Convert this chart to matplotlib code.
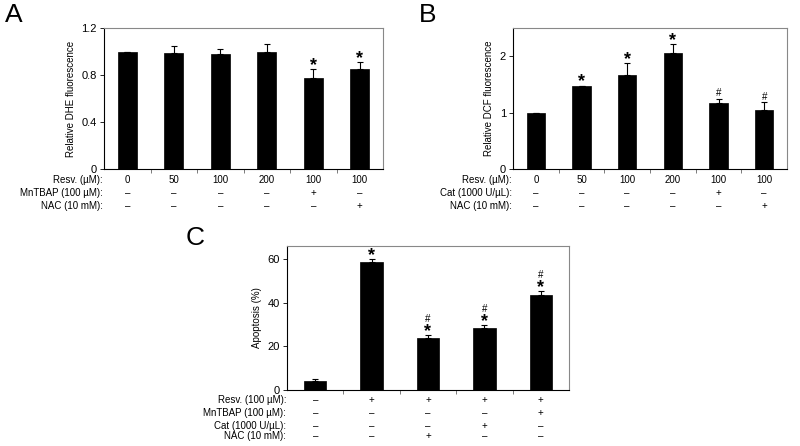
import matplotlib
matplotlib.use("Agg")
import matplotlib.pyplot as plt
import matplotlib.transforms as mtransforms

plt.rcParams['font.family'] = ['Liberation Sans', 'DejaVu Sans']
plt.rcParams['font.size'] = 7

# panel A: DHE
dhe_vals = [1.0, 0.99, 0.975, 1.0, 0.772, 0.852]
dhe_err = [0.0, 0.055, 0.045, 0.06, 0.08, 0.06]
dhe_marks = ['', '', '', '', '*', '*']
a_rows = ["Resv. (µM):", "MnTBAP (100 µM):", "NAC (10 mM):"]
a_cells = [["0", "50", "100", "200", "100", "100"],
           ["–", "–", "–", "–", "+", "–"],
           ["–", "–", "–", "–", "–", "+"]]

# panel B: DCF
dcf_vals = [1.0, 1.47, 1.66, 2.05, 1.17, 1.04]
dcf_err = [0.0, 0.01, 0.22, 0.17, 0.07, 0.14]
dcf_marks = ['', '*', '*', '*', '#', '#']
b_rows = ["Resv. (µM):", "Cat (1000 U/µL):", "NAC (10 mM):"]
b_cells = [["0", "50", "100", "200", "100", "100"],
           ["–", "–", "–", "–", "+", "–"],
           ["–", "–", "–", "–", "–", "+"]]

# panel C: apoptosis
apo_vals = [4.2, 58.6, 24.0, 28.5, 43.6]
apo_err = [0.8, 1.4, 1.4, 1.4, 1.7]
apo_marks = ['', '*', '#*', '#*', '#*']
c_rows = ["Resv. (100 µM):", "MnTBAP (100 µM):", "Cat (1000 U/µL):", "NAC (10 mM):"]
c_cells = [["–", "+", "+", "+", "+"],
           ["–", "–", "–", "–", "+"],
           ["–", "–", "–", "+", "–"],
           ["–", "–", "+", "–", "–"]]

W, H = 800, 446
fig = plt.figure(figsize=(8, 4.46), dpi=100)


def box(l, t, r, b):
    return [l / W, 1 - b / H, (r - l) / W, (b - t) / H]


def panel(rect, vals, err, marks, ylim, yticks, ylabels, ylab, rows, cells, row_y, letter, letter_xy):
    ax = fig.add_axes(box(*rect))
    n = len(vals)
    x = list(range(n))
    ax.bar(x, vals, width=0.4, color='black', edgecolor='black', linewidth=0.5)
    ax.errorbar(x, vals, yerr=[[0] * n, err], fmt='none', ecolor='black',
                elinewidth=0.8, capsize=2, capthick=0.8)
    span = ylim[1] - ylim[0]
    for xi, v, e, m in zip(x, vals, err, marks):
        y = v + e + span * 0.005
        for ch in reversed(m):
            if ch == '*':
                ax.text(xi, y - span * 0.04, '*', ha='center', va='bottom',
                        fontsize=13, fontweight='bold')
                y += span * 0.07
            else:
                ax.text(xi, y, '#', ha='center', va='bottom', fontsize=7)
                y += span * 0.07
    ax.set_xlim(-0.5, n - 0.5)
    ax.set_ylim(*ylim)
    ax.set_yticks(yticks)
    ax.set_yticklabels(ylabels, fontsize=8)
    ax.set_xticks([i + 0.5 for i in range(n - 1)])
    ax.set_xticklabels([])
    ax.tick_params(axis='x', length=3, width=0.6, color='#666666')
    ax.tick_params(axis='y', length=3, width=0.6, pad=2)
    ax.set_ylabel(ylab, fontsize=7, labelpad=4)
    for s in ['top', 'right']:
        ax.spines[s].set_color('#888888')
        ax.spines[s].set_linewidth(0.8)
    for s in ['left', 'bottom']:
        ax.spines[s].set_linewidth(0.8)
    tr = mtransforms.blended_transform_factory(ax.transData, fig.transFigure)
    for lab, vals_row, yp in zip(rows, cells, row_y):
        yf = 1 - yp / H
        fig.text((rect[0] - 1) / W, yf, lab, ha='right', va='center', fontsize=7)
        for xi, c in zip(x, vals_row):
            ax.text(xi, yf, c, ha='center', va='center', fontsize=7, transform=tr)
    fig.text(letter_xy[0] / W, 1 - letter_xy[1] / H, letter, fontsize=19,
             ha='center', va='center')
    return ax


panel((104, 28, 383, 169), dhe_vals, dhe_err, dhe_marks, (0, 1.2),
      [0, 0.4, 0.8, 1.2], ["0", "0.4", "0.8", "1.2"], "Relative DHE fluorescence",
      a_rows, a_cells, [180, 193, 206], "A", (14, 15))

panel((513, 28, 787, 169), dcf_vals, dcf_err, dcf_marks, (0, 2.5),
      [0, 1, 2], ["0", "1", "2"], "Relative DCF fluorescence",
      b_rows, b_cells, [180, 193, 206], "B", (428, 15))

panel((287, 246, 569, 390), apo_vals, apo_err, apo_marks, (0, 66),
      [0, 20, 40, 60], ["0", "20", "40", "60"], "Apoptosis (%)",
      c_rows, c_cells, [400, 413, 426, 436], "C", (195, 238))

fig.savefig("out.png", dpi=100)
